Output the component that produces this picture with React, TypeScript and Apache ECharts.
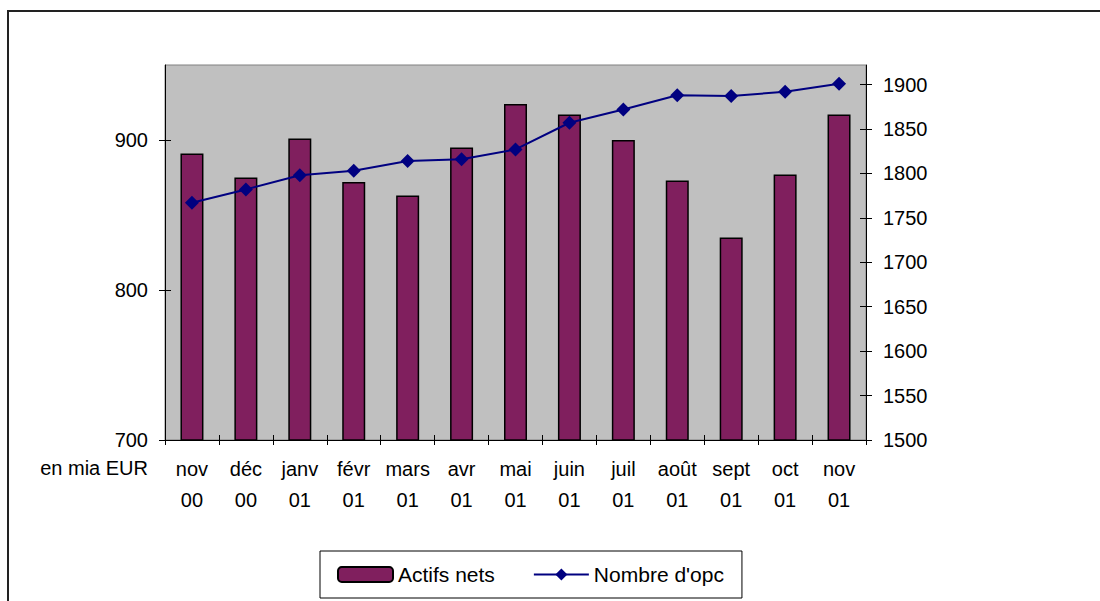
import React, { useEffect, useRef } from "react";
import * as echarts from "echarts";

const categories = [
  "nov\n00", "déc\n00", "janv\n01", "févr\n01", "mars\n01", "avr\n01", "mai\n01",
  "juin\n01", "juil\n01", "août\n01", "sept\n01", "oct\n01", "nov\n01",
];
const actifsNets = [891, 875, 901, 872, 863, 895, 924, 917, 900, 873, 835, 877, 917];
const nombreOpc = [1767, 1782, 1798, 1803, 1814, 1816, 1827, 1857, 1872, 1888, 1887, 1892, 1901];
const leftTicks = [700, 800, 900];
const rightTicks = [1500, 1550, 1600, 1650, 1700, 1750, 1800, 1850, 1900];

const FONT = "'Liberation Sans', Arial, sans-serif";

export default function App() {
  const ref = useRef<HTMLDivElement>(null);
  useEffect(() => {
    if (!ref.current) return;
    const chart = echarts.init(ref.current, null, { renderer: "svg" });
    const axisLine = { show: true, lineStyle: { color: "#000", width: 1 } };
    const yLeftBase = { type: "value", position: "left", min: 700, max: 950, interval: 50 };
    const yRightBase = { type: "value", position: "right", min: 1500, max: 1922, interval: 50 };
    chart.setOption({
      animation: false,
      textStyle: { fontFamily: FONT },
      grid: {
        left: 165, top: 65, right: 234, bottom: 161,
        show: true, backgroundColor: "#C0C0C0", borderColor: "#808080", borderWidth: 1,
      },
      legend: {
        left: 320, top: 551,
        padding: [13, 18, 13, 17],
        itemGap: 38,
        itemWidth: 55, itemHeight: 15,
        borderColor: "#000", borderWidth: 1,
        textStyle: { fontSize: 21, color: "#000", fontFamily: FONT },
        data: ["Actifs nets", "Nombre d'opc"],
      },
      xAxis: [
        {
          type: "category", data: categories, position: "bottom",
          axisLine,
          axisTick: { show: true, inside: false, length: 5, lineStyle: { color: "#000" } },
          axisLabel: { fontSize: 20, color: "#000", lineHeight: 31, margin: 13, fontFamily: FONT, interval: 0 },
          splitLine: { show: false },
        },
        {
          type: "category", data: categories, position: "bottom",
          axisLine: { show: false },
          axisTick: { show: true, inside: true, length: 5, lineStyle: { color: "#000" } },
          axisLabel: { show: false },
          splitLine: { show: false },
        },
      ],
      yAxis: [
        {
          ...yLeftBase,
          axisLine,
          axisTick: { show: true, inside: false, length: 6, customValues: leftTicks, lineStyle: { color: "#000" } },
          axisLabel: {
            fontSize: 20, color: "#000", margin: 17, fontFamily: FONT, customValues: leftTicks,
            formatter: (v: number) => (leftTicks.includes(v) ? String(v) : ""),
          },
          splitLine: { show: false },
        },
        {
          ...yRightBase,
          axisLine,
          axisTick: { show: true, inside: false, length: 6, customValues: rightTicks, lineStyle: { color: "#000" } },
          axisLabel: {
            fontSize: 20, color: "#000", margin: 17, fontFamily: FONT, customValues: rightTicks,
            formatter: (v: number) => (rightTicks.includes(v) ? String(v) : ""),
          },
          splitLine: { show: false },
        },
        {
          ...yLeftBase,
          axisLine: { show: false },
          axisTick: { show: true, inside: true, length: 6, customValues: leftTicks, lineStyle: { color: "#000" } },
          axisLabel: { show: false },
          splitLine: { show: false },
        },
        {
          ...yRightBase,
          axisLine: { show: false },
          axisTick: { show: true, inside: true, length: 6, customValues: rightTicks, lineStyle: { color: "#000" } },
          axisLabel: { show: false },
          splitLine: { show: false },
        },
      ],
      graphic: [
        {
          type: "rect",
          shape: { x: 8, y: 11, width: 1100, height: 600 },
          style: { fill: "none", stroke: "#222", lineWidth: 2 },
          silent: true,
        },
        {
          type: "text",
          x: 148, y: 468,
          style: {
            text: "en mia EUR", fontSize: 20, fill: "#000", fontFamily: FONT,
            align: "right", verticalAlign: "middle",
          },
        },
      ],
      series: [
        {
          name: "Actifs nets",
          type: "bar",
          data: actifsNets,
          xAxisIndex: 0, yAxisIndex: 0,
          barWidth: 23,
          itemStyle: { color: "#801F5E", borderColor: "#000", borderWidth: 1.5 },
        },
        {
          name: "Nombre d'opc",
          type: "line",
          data: nombreOpc,
          xAxisIndex: 0, yAxisIndex: 1,
          symbol: "diamond",
          symbolSize: 14,
          lineStyle: { color: "#000080", width: 2 },
          itemStyle: { color: "#000080" },
        },
      ],
    });
    return () => chart.dispose();
  }, []);
  return (
    <div
      ref={ref}
      style={{ position: "absolute", left: 0, top: 0, width: 1100, height: 601, background: "#fff" }}
    />
  );
}
